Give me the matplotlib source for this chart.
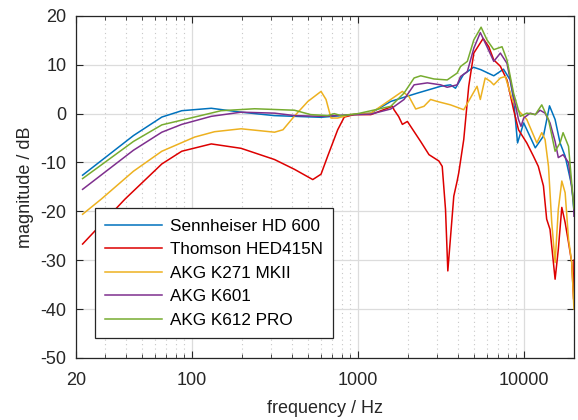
import matplotlib
matplotlib.use('Agg')
import matplotlib.pyplot as plt
import numpy as np

plt.rcParams['font.family'] = ['Liberation Sans', 'DejaVu Sans']
plt.rcParams['axes.unicode_minus'] = False

# frequency responses (Hz, dB)
f_hd600 = [22, 44.5, 66, 87, 131, 198, 313, 600, 946, 1197, 1577, 2280, 3150, 3610, 3870,
           4320, 4970, 5500, 6580, 7530, 8260, 8660, 9150, 9960, 11700, 13100, 14250,
           15400, 16500, 17700, 19400, 20000]
db_hd600 = [-12.6, -4.5, -0.7, 0.6, 1.1, 0.3, -0.4, -0.75, -0.2, 0.1, 2.5, 4.2, 5.6, 5.9, 5.2,
            8.0, 9.5, 9.0, 7.75, 9.1, 6.9, 2.9, -6.0, -1.9, -7.0, -4.6, 1.6,
            -1.2, -6.0, -8.7, -14.8, -20.0]

f_hed415 = [22, 39.6, 66, 87, 131, 198, 315, 415, 535, 600, 658, 756, 828, 950, 1197,
            1615, 1650, 1760, 1853, 1987, 2387, 2680, 3075, 3220, 3370, 3480, 3780, 3960,
            4050, 4340, 4650, 4990, 5680, 6140, 6580, 7210, 7900, 8660, 9270, 10400, 11400,
            12200, 13100, 13700, 14350, 15400, 16100, 16900, 17700, 18550, 19400, 19900, 20000]
db_hed415 = [-26.7, -17.5, -10.3, -7.7, -6.2, -7.1, -9.4, -11.4, -13.5, -12.4, -8.7, -3.3, -0.7, -0.2, -0.2,
             1.5, 0.8, -0.6, -2.2, -1.6, -5.7, -8.4, -9.7, -10.8, -19.6, -32.2, -16.9, -13.8,
             -12.1, -5.3, 5.6, 12.4, 15.4, 13.7, 11.0, 9.7, 6.9, 0.8, -3.3, -6.0, -8.7,
             -10.8, -14.8, -21.6, -23.7, -33.9, -27.8, -19.2, -22.3, -26.4, -30.5, -38.0, -30.0]

f_k271 = [22, 28.5, 44.5, 66, 104, 137, 198, 315, 354, 415, 500, 600, 643, 689, 756, 908,
          1197, 1577, 1853, 2030, 2230, 2500, 2740, 3000, 3610, 4340, 4760, 5220, 5460,
          5840, 6280, 6580, 7210, 7720, 8450, 9060, 10400, 11950, 12800, 13400, 14050,
          14700, 15400, 16100, 16900, 17700, 18550, 19400, 20000]
db_k271 = [-20.6, -17.5, -11.8, -7.7, -4.8, -3.7, -3.1, -3.8, -3.3, -0.5, 2.5, 4.55, 2.9, -0.9, -0.9, -0.2,
           0.1, 2.9, 4.55, 3.5, 0.95, 1.5, 2.9, 2.5, 1.8, 0.8, 3.2, 5.6, 2.9,
           7.3, 6.6, 5.9, 7.3, 7.6, 3.2, 1.0, -1.2, -6.0, -3.9, -5.3, -10.8,
           -22.3, -30.5, -19.6, -13.8, -16.2, -25.7, -30.5, -40.0]

f_k601 = [22, 44.5, 66, 87, 131, 198, 315, 415, 600, 950, 1197, 1577, 1896, 2180, 2620,
          3150, 3450, 3960, 4150, 4560, 4990, 5460, 5990, 6580, 7210, 7900, 8660, 9270,
          9600, 9960, 10900, 11700, 12500, 13400, 14350, 15400, 16100, 17200, 18550, 19900, 20000]
db_k601 = [-15.5, -7.5, -3.8, -2.2, -0.55, 0.3, 0.1, -0.4, -0.55, -0.2, -0.1, 0.95, 2.9, 5.9, 6.3,
           5.9, 5.4, 5.9, 7.6, 8.6, 13.4, 16.6, 13.7, 10.7, 12.4, 10.3, 3.5, -1.2,
           -2.6, -0.9, 0.1, -0.2, 0.7, 0.1, -1.9, -5.7, -9.0, -8.4, -10.0, -18.2, -21.0]

f_k612 = [22, 44.5, 66, 104, 150, 239, 415, 520, 658, 721, 790, 1000, 1577, 1896, 2180,
          2390, 2870, 3450, 3960, 4150, 4560, 4990, 5520, 5990, 6580, 7380, 7900, 8660,
          9500, 10400, 11700, 12800, 14050, 15400, 16500, 17200, 18550, 20000]
db_k612 = [-13.3, -5.7, -2.3, -0.7, 0.6, 1.0, 0.7, -0.2, -0.4, 0.0, -0.4, 0.0, 1.5, 4.2, 7.3,
           7.75, 7.1, 6.9, 8.3, 9.65, 10.7, 15.1, 17.7, 15.1, 13.1, 13.7, 11.0, 4.2,
           -0.55, 0.1, -0.2, 1.8, -1.2, -7.7, -6.0, -3.9, -6.7, -19.5]

names = ['Sennheiser HD 600', 'Thomson HED415N', 'AKG K271 MKII', 'AKG K601', 'AKG K612 PRO']
colors = ['#0072BD', '#DD0000', '#EDB120', '#7E2F8E', '#77AC30']

fig = plt.figure(figsize=(5.78, 4.2), dpi=100)
ax = fig.add_axes([0.131, 0.148, 0.862, 0.814])

curves = [(f_hd600, db_hd600), (f_hed415, db_hed415), (f_k271, db_k271),
          (f_k601, db_k601), (f_k612, db_k612)]
for (f, db), name, c in zip(curves, names, colors):
    ax.plot(f, db, color=c, lw=1.1, label=name)

ax.set_xscale('log')
ax.set_xlim(20, 20000)
ax.set_ylim(-50, 20)
ax.set_xticks([20, 100, 1000, 10000])
ax.set_xticklabels(['20', '100', '1000', '10000'])
ax.set_yticks(np.arange(-50, 21, 10))
ax.xaxis.set_minor_formatter(matplotlib.ticker.NullFormatter())

ax.grid(True, which='major', color='#dcdcdc', lw=0.9, ls='-')
ax.grid(True, which='minor', axis='x', color='#c8c8c8', lw=0.8, ls=(0, (1, 3)))
ax.set_axisbelow(True)

ax.tick_params(which='both', direction='in', top=True, right=True, colors='#262626',
               labelsize=13)
ax.tick_params(which='major', length=5)
ax.tick_params(which='minor', length=3)
ax.tick_params(axis='x', which='both', pad=10)
ax.tick_params(axis='y', which='both', pad=6.5)
for s in ax.spines.values():
    s.set_color('#262626')
    s.set_linewidth(0.9)

ax.set_xlabel('frequency / Hz', fontsize=13, color='#262626', labelpad=8)
ax.set_ylabel('magnitude / dB', fontsize=13, color='#262626', labelpad=5)

leg = ax.legend(loc='lower left', bbox_to_anchor=(0.038, 0.058), borderaxespad=0,
                fontsize=12.3, fancybox=False, framealpha=1, edgecolor='#262626',
                handlelength=3.35, labelspacing=0.5, borderpad=0.6, handletextpad=0.45)
leg.get_frame().set_linewidth(0.9)

plt.savefig('out.png', dpi=100)
